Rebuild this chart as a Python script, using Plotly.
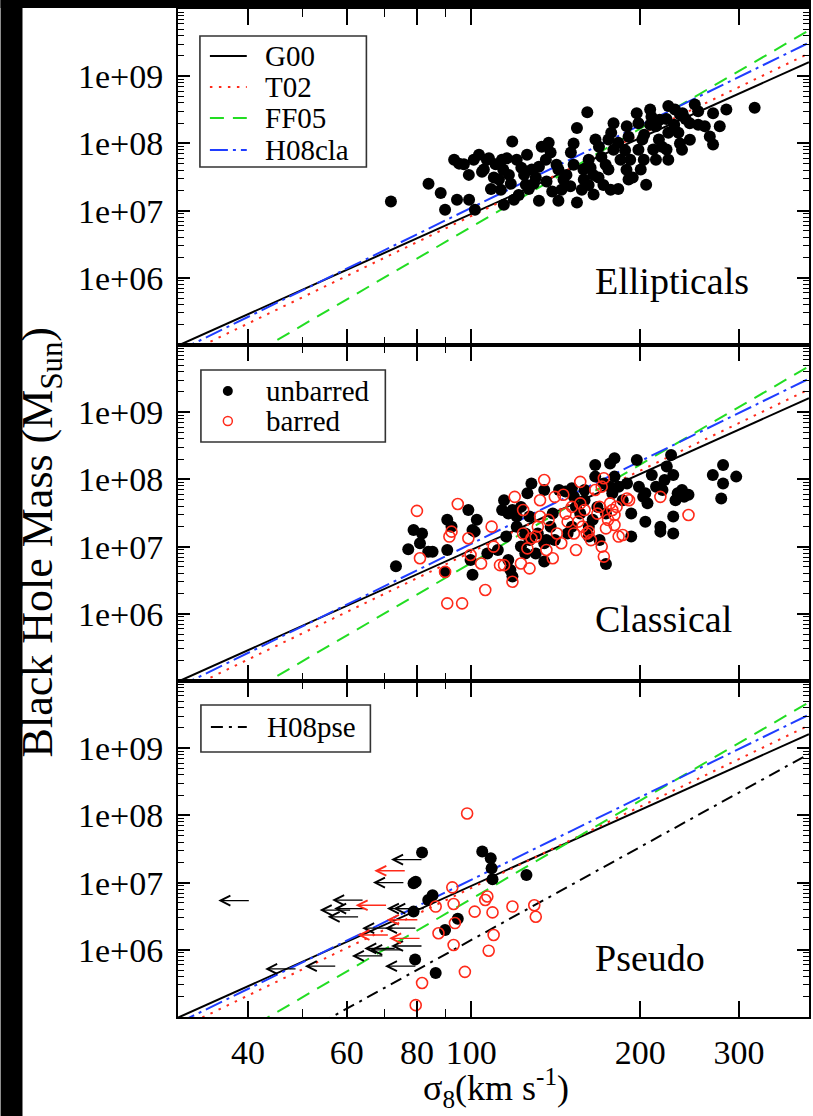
import math
import plotly.graph_objects as go
from plotly.subplots import make_subplots

# M-sigma relations: log10(M) = a + b * log10(sigma / 200 km/s)
rel_names = ["G00", "T02", "FF05", "H08cla"]
rel_a = [8.08, 8.13, 8.22, 8.27]
rel_b = [3.75, 4.02, 4.86, 4.08]
rel_colors = ["#000000", "#ff2a1a", "#22dd22", "#1f3dff"]
rel_dash = ["solid", "2.5px,6.5px", "14px,9px", "18px,5px,3px,5px"]
pse_name = "H08pse"
pse_a = 7.53
pse_b = 4.6
sigma_span = [30, 400]

# Ellipticals
ell_sigma = [71.9, 83.9, 88.2, 89.8, 161, 118.3, 113.4, 114, 125.7, 133.5, 137.4, 138.5,
             135.8, 132, 128.2, 139.4, 150.2, 157.4, 154.3, 154.3, 152.2, 150.5, 161.9,
             166.5, 170.6, 168.9, 175.6, 179.3, 175.6, 177.6, 182.8, 189.3, 190.7, 188,
             192, 190.7, 197.2, 198.6, 201.8, 200.5, 208.4, 209.5, 213.4, 216, 218.7,
             224.5, 222.8, 224.5, 222.9, 224.5, 230.7, 235.5, 234, 235.5, 238, 241,
             245.2, 250.3, 253.8, 260.8, 266.2, 269.8, 269.8, 277.3, 284.9, 320,
             172, 182.8, 165, 194, 203, 211,
             93.2, 95.1, 97, 99, 101, 103.2, 105.3, 107.5, 108.4, 110.5, 112, 115.7,
             117.6, 120.5, 121.5, 124.2, 126.6, 129.2, 132, 143, 146, 143, 158.5, 161.9,
             94.3,
             104.5, 106.6, 109.7, 112.9, 116.7, 119.1, 122.8, 125.1, 130.3, 136.2, 141.9,
             144.8, 147.8, 152.2, 158.7, 163.2, 168.6, 173.6, 179.3, 184.5, 189.1, 198.6,
             203.3, 208.4, 213.4, 216.7, 230, 237.5, 245.3, 253.8, 205, 177.2, 165.2,
             99.1, 101.5, 114.3]
ell_mbh = [1.37e7, 2.5e7, 1.83e7, 1.03e7, 2.9e8, 1.07e8, 5.7e7, 4.1e7, 6.8e7, 8.9e7, 1.02e8, 7.3e7,
           5.7e7, 4.5e7, 4.1e7, 1.93e7, 2.3e7, 2.05e7, 1.32e7, 1.7e8, 1.0e8, 7.3e7, 5.7e7,
           1.14e8, 6.3e7, 8.9e7, 4.1e7, 2.0e8, 1.14e8, 1.44e8, 1.02e8, 1.8e8, 1.26e8, 7.9e7,
           5.7e7, 2.9e7, 2.8e8, 2.0e8, 1.14e8, 4.1e7, 3.2e8, 2.5e8, 1.8e8, 1.14e8, 8.9e7,
           3.6e8, 2.3e8, 1.44e8, 8.1e7, 5.7e7, 3.2e8, 2.7e8, 1.44e8, 1.0e8, 2.8e8, 2.3e8,
           2.0e8, 3.8e8, 3.0e8, 1.8e8, 1.27e8, 9.6e7, 2.8e8, 1.8e8, 3.2e8, 3.4e8,
           2.4e7, 2.1e7, 3.4e7, 3.1e7, 5.7e7, 8.1e7,
           5.7e7, 5.0e7, 4.9e7, 3.4e7, 5.7e7, 6.8e7, 4.1e7, 6.0e7, 2.1e7, 4.9e7, 2.9e7, 6.0e7,
           2.5e7, 5.7e7, 1.7e7, 3.4e7, 2.1e7, 2.5e7, 1.4e7, 4.1e7, 2.9e7, 1.4e7, 4.1e7, 2.4e7,
           1.45e7,
           3.8e7, 5.7e7, 3.1e7, 2.05e7, 3.4e7, 1.45e7, 4.35e7, 2.43e7, 3.1e7, 2.7e7, 4.8e7,
           2.05e7, 3.4e7, 4.8e7, 2.9e7, 4.35e7, 3.1e7, 4.8e7, 8.05e7, 5.7e7, 4.06e7, 8.05e7,
           1.35e8, 1.9e8, 5.7e7, 2.25e8, 1.9e8, 8.05e7, 1.13e8, 1.9e8, 2.43e7, 2.05e7, 1.73e7,
           1.45e7, 1.03e7, 1.22e7]

# Classical bulges, unbarred hosts
cla_un_sigma = [73.4, 77.2, 78.9, 81.7, 81.0, 83.8, 85.3, 90.6, 92.2, 90.6, 89.8, 98.8,
                102.3, 100.5, 101.4, 100.5, 99.7, 106.8, 111.5, 114.4, 113.5, 116.4, 118.4,
                120.5, 122.6, 120.5, 115.4, 116.4, 117.4, 118.4, 122.6, 124.8, 127, 128,
                125.9, 134.9, 134.9, 136.1, 138.5, 139.7, 143.4, 147.2, 151.1, 152.4, 153.7,
                156.4, 159.2, 162, 162, 166.3, 166.3, 167.8, 172.3, 176.8, 180, 178.4, 173.8,
                180, 183.1, 186.2, 189.5, 192.8, 192.8, 197.3, 199, 202.5, 204.3, 206.1,
                204.3, 209.8, 213.5, 217.3, 217.3, 219.2, 221.1, 223.1, 227.1, 229.1, 229.1,
                231.2, 229.1, 233.3, 237.5, 239.6, 243.9, 269.5, 281.1, 281.1, 296.7, 279,
                127, 131.4, 140.9, 148.5, 151.1, 164.6, 169.3, 176.8, 173.8, 134.9, 130.3,
                124.8, 159.2]
cla_un_mbh = [5.1e6, 9.1e6, 1.77e7, 1.57e7, 1.12e7, 8.4e6, 8.4e6, 2.5e7, 1.98e7, 8.9e6, 4.2e6, 3.5e7,
              2.5e7, 1.77e7, 1.67e7, 3.8e6, 6.3e6, 7.9e6, 8.9e6, 4.9e7, 3.5e7, 3.1e7, 3.5e7,
              2.8e7, 3.9e7, 1.98e7, 1.41e7, 6.3e6, 4.5e6, 3.6e6, 1.0e7, 7.9e6, 1.25e7, 8.7e7,
              6.2e7, 6.95e7, 6.0e6, 1.25e7, 1.98e7, 3.1e7, 6.95e7, 6.6e7, 7.4e7, 5.5e7, 3.9e7,
              3.1e7, 4.9e7, 1.98e7, 1.41e7, 1.64e8, 1.1e8, 3.9e7, 8.7e7, 1.73e8, 2.06e8, 6.2e7, 5.5e6,
              1.1e8, 7.8e7, 4.9e7, 8.7e7, 1.41e7, 3.1e7, 1.95e8, 7.8e7, 5.5e7, 6.2e7, 4.4e7,
              2.35e7, 1.16e8, 7.8e7, 1.98e7, 1.67e7, 6.95e7, 9.8e7, 1.55e8, 2.3e8, 1.16e8, 2.8e7,
              4.9e7, 1.57e7, 6.2e7, 6.95e7, 5.5e7, 5.9e7, 1.16e8, 1.64e8, 8.7e7, 1.1e8, 5.2e7,
              2.8e7, 1.57e7, 1.25e7, 1.57e7, 1.98e7, 2.5e7, 1.25e7, 7.8e7, 3.1e7, 1.12e7, 7.9e6,
              1.57e7, 6.95e7]

# Classical bulges, barred hosts
cla_bar_sigma = [80.0, 81.0, 94.6, 92.2, 91.4, 89.8, 90.6, 96.3, 98.8, 99.7, 104.1, 105.9,
                 108.7, 109.6, 112.5, 114.4, 118.4, 119.5, 123.7, 123.7, 122.6, 125.9, 127,
                 128, 130.3, 131.4, 132.6, 134.9, 132.6, 136.1, 137.3, 139.7, 140.9, 142.1,
                 144.7, 145.9, 147.2, 148.5, 151.1, 152.4, 153.7, 155.1, 156.4, 156.4, 157.8,
                 159.2, 160.6, 162, 163.4, 166.3, 167.8, 169.3, 170.8, 170.8, 172.3, 172.3,
                 173.8, 175.3, 176.8, 178.4, 180, 180, 181.5, 183.1, 186.2, 189.5, 191.1,
                 217.3, 243.9]
cla_bar_mbh = [3.4e7, 6.7e6, 4.3e7, 1.67e7, 1.41e7, 4.2e6, 1.43e6, 1.43e6, 1.33e7, 7.5e6, 5.6e6, 2.26e6,
               1.98e7, 1.0e7, 5.3e6, 5.3e6, 3.0e6, 5.5e7, 3.5e7, 1.57e7, 5.6e6, 9.4e6, 4.75e6,
               1.33e7, 1.41e7, 1.98e7, 2.8e7, 9.8e7, 4.9e7, 8.9e6, 2.5e7, 6.7e6, 5.5e7, 1.57e7,
               1.12e7, 5.9e7, 3.1e7, 2.35e7, 3.9e7, 1.57e7, 8.9e6, 2.35e7, 9.2e7, 4.4e7, 1.98e7,
               3.5e7, 1.57e7, 1.67e7, 1.25e7, 6.95e7, 3.1e7, 3.9e7, 7.8e7, 1.0e7, 7.1e6, 1.04e8,
               1.87e7, 2.5e7, 4.4e7, 3.5e7, 2.95e7, 2.1e7, 3.9e7, 1.41e7, 1.49e7, 5.2e7, 4.9e7,
               5.5e7, 2.95e7]

# Pseudobulges, measured masses
pse_un_sigma = [81.7, 78.9, 79.6, 83.8, 85.3, 89.8, 94.6, 78.9, 79.4, 86.4, 104.6, 108.3,
                108.7, 109.1, 125.4]
pse_un_mbh = [2.8e7, 9.8e6, 1.03e7, 5.5e6, 6.5e6, 1.97e6, 2.9e6, 3.7e6, 7.2e5, 4.5e5, 2.9e7, 2.3e7,
              1.63e7, 1.12e7, 1.3e7]
pse_bar_sigma = [98.3, 92.5, 86.4, 93, 101.4, 105.9, 106.8, 109.1, 118.4, 129.5, 130.3, 87.4,
                 93, 93.5, 109.6, 107.4, 97.4, 81.7, 79.6]
pse_bar_mbh = [1.07e8, 8.5e6, 4.4e6, 4.8e6, 3.7e6, 5.5e6, 6.2e6, 3.6e6, 4.4e6, 4.6e6, 3.1e6, 1.76e6,
               1.18e6, 2.5e6, 1.66e6, 9.7e5, 4.7e5, 3.2e5, 1.5e5]

# Pseudobulges, upper limits in sigma
lim_un_sigma = [37.8, 76.8, 71.3, 60.3, 60.8, 59.2, 57.3, 75.5, 68.2, 74.9, 76.8, 68.8, 65.4,
                53.9, 45.8, 74.9, 77.5, 70.5]
lim_un_mbh = [5.4e6, 2.2e7, 1.0e7, 5.5e6, 4.1e6, 3.1e6, 3.9e6, 4.1e6, 2.1e6, 2.1e6, 1.14e6, 1.05e6,
              8.1e5, 5.7e5, 5.2e5, 5.7e5, 4.1e6, 1.0e6]
lim_bar_sigma = [71.7, 66.4, 75.5, 66.9, 76.2]
lim_bar_mbh = [1.5e7, 4.6e6, 2.8e6, 1.66e6, 1.48e6]

x_tickvals = [40, 60, 80, 100, 200, 300]
x_minor = [50, 70, 90]
y_tickvals = [1e6, 1e7, 1e8, 1e9]
y_ticktext = ["1e+06", "1e+07", "1e+08", "1e+09"]
y_minor = [k * 10 ** e for e in range(5, 10) for k in range(2, 10)]

panel_names = ["Ellipticals", "Classical", "Pseudo"]

SERIF = "Liberation Serif, Times New Roman, serif"
RED = "#ff2a1a"

W, H = 813, 1116
ML, MR, MT, MB = 178, 2, 9, 99
PW, PH = W - ML - MR, H - MT - MB


def fx(px):
    return (px - ML) / PW


def fy(py):
    return (MT + PH - py) / PH


def relation(a, b, s):
    return 10 ** (a + b * math.log10(s / 200.0))


fig = make_subplots(rows=3, cols=1, shared_xaxes=True, vertical_spacing=0)

for row in (1, 2, 3):
    for name, a, b, col, dash in zip(rel_names, rel_a, rel_b, rel_colors, rel_dash):
        fig.add_trace(go.Scatter(
            x=sigma_span, y=[relation(a, b, s) for s in sigma_span],
            mode="lines", name=name, showlegend=False,
            line=dict(color=col, width=2, dash=dash)), row=row, col=1)

fig.add_trace(go.Scatter(
    x=sigma_span, y=[relation(pse_a, pse_b, s) for s in sigma_span],
    mode="lines", name=pse_name, showlegend=False,
    line=dict(color="black", width=2, dash="12px,6px,3px,6px")), row=3, col=1)

filled = dict(symbol="circle", size=12, color="black", line=dict(width=0))
opened = dict(symbol="circle-open", size=11, color=RED, line=dict(width=1.6, color=RED))

fig.add_trace(go.Scatter(x=ell_sigma, y=ell_mbh, mode="markers", marker=filled,
                         showlegend=False), row=1, col=1)
fig.add_trace(go.Scatter(x=cla_un_sigma, y=cla_un_mbh, mode="markers", marker=filled,
                         showlegend=False), row=2, col=1)
fig.add_trace(go.Scatter(x=cla_bar_sigma, y=cla_bar_mbh, mode="markers", marker=opened,
                         showlegend=False), row=2, col=1)
fig.add_trace(go.Scatter(x=pse_un_sigma, y=pse_un_mbh, mode="markers", marker=filled,
                         showlegend=False), row=3, col=1)
fig.add_trace(go.Scatter(x=pse_bar_sigma, y=pse_bar_mbh, mode="markers", marker=opened,
                         showlegend=False), row=3, col=1)

# sigma upper limits: thin left-pointing arrows centred on each point
annotations = []
for sig_list, m_list, col in [(lim_un_sigma, lim_un_mbh, "black"),
                              (lim_bar_sigma, lim_bar_mbh, RED)]:
    for s, m in zip(sig_list, m_list):
        annotations.append(dict(x=math.log10(s), y=math.log10(m), xref="x3", yref="y3",
                                text="", showarrow=True, arrowhead=5, arrowsize=1.5,
                                arrowwidth=1.3, arrowcolor=col, ax=32, ay=0,
                                axref="pixel", ayref="pixel", xshift=-16,
                                standoff=0, startstandoff=0))

for row in (1, 2, 3):
    fig.update_xaxes(type="log", range=[math.log10(sigma_span[0]), math.log10(sigma_span[1])],
                     tickmode="array", tickvals=x_tickvals,
                     ticktext=[str(v) for v in x_tickvals],
                     ticks="inside", ticklen=16, tickwidth=1.6, tickcolor="black",
                     minor=dict(tickmode="array", tickvals=x_minor, ticks="inside",
                                ticklen=8, tickwidth=1.4, tickcolor="black"),
                     showline=True, linewidth=2, linecolor="black", mirror="allticks",
                     showgrid=False, zeroline=False,
                     tickfont=dict(family=SERIF, size=34, color="black"),
                     ticklabelstandoff=4, row=row, col=1)
    fig.update_yaxes(type="log", range=[5, 10],
                     tickmode="array", tickvals=y_tickvals, ticktext=y_ticktext,
                     ticks="inside", ticklen=12, tickwidth=1.6, tickcolor="black",
                     minor=dict(tickmode="array", tickvals=y_minor, ticks="inside",
                                ticklen=6, tickwidth=1.2, tickcolor="black"),
                     showline=True, linewidth=2, linecolor="black", mirror="allticks",
                     showgrid=False, zeroline=False,
                     tickfont=dict(family=SERIF, size=34, color="black"),
                     ticklabelstandoff=6, row=row, col=1)

shapes = []

# dark frame strips around the page
shapes.append(dict(type="rect", xref="paper", yref="paper", x0=fx(0), x1=fx(22),
                   y0=fy(H), y1=fy(0), fillcolor="black", line=dict(width=0), layer="above"))
shapes.append(dict(type="rect", xref="paper", yref="paper", x0=fx(0), x1=fx(W),
                   y0=fy(8), y1=fy(0), fillcolor="black", line=dict(width=0), layer="above"))

# legend boxes
box_line = dict(color="#333333", width=1.6)
for (x0, y0, x1, y1) in [(200, 36, 367, 167), (201, 370, 386, 442), (201, 705, 371, 752)]:
    shapes.append(dict(type="rect", xref="paper", yref="paper", x0=fx(x0), x1=fx(x1),
                       y0=fy(y1), y1=fy(y0), fillcolor="white", line=box_line, layer="above"))

leg_rows = [56, 87, 118, 150]
for name, col, dash, yy in zip(rel_names, rel_colors, rel_dash, leg_rows):
    shapes.append(dict(type="line", xref="paper", yref="paper", x0=fx(210), x1=fx(247),
                       y0=fy(yy), y1=fy(yy), line=dict(color=col, width=2, dash=dash),
                       layer="above"))
    annotations.append(dict(text=name, xref="paper", yref="paper", x=fx(263), y=fy(yy),
                            xanchor="left", yanchor="middle", showarrow=False,
                            font=dict(family=SERIF, size=29, color="black")))

shapes.append(dict(type="circle", xref="paper", yref="paper", xsizemode="pixel",
                   ysizemode="pixel", xanchor=fx(228), yanchor=fy(391), x0=-5, x1=5,
                   y0=-5, y1=5, fillcolor="black", line=dict(width=0), layer="above"))
shapes.append(dict(type="circle", xref="paper", yref="paper", xsizemode="pixel",
                   ysizemode="pixel", xanchor=fx(228), yanchor=fy(421), x0=-4.5, x1=4.5,
                   y0=-4.5, y1=4.5, line=dict(color=RED, width=1.5), layer="above"))
for txt, yy in [("unbarred", 391), ("barred", 421)]:
    annotations.append(dict(text=txt, xref="paper", yref="paper", x=fx(264), y=fy(yy),
                            xanchor="left", yanchor="middle", showarrow=False,
                            font=dict(family=SERIF, size=29, color="black")))

shapes.append(dict(type="line", xref="paper", yref="paper", x0=fx(211), x1=fx(247),
                   y0=fy(727), y1=fy(727),
                   line=dict(color="black", width=2, dash="12px,6px,3px,6px"), layer="above"))
annotations.append(dict(text=pse_name, xref="paper", yref="paper", x=fx(265), y=fy(727),
                        xanchor="left", yanchor="middle", showarrow=False,
                        font=dict(family=SERIF, size=29, color="black")))

# panel names
for name, yy in zip(panel_names, [281, 619, 958]):
    annotations.append(dict(text=name, xref="paper", yref="paper", x=fx(594), y=fy(yy),
                            xanchor="left", yanchor="middle", showarrow=False,
                            font=dict(family=SERIF, size=38, color="black")))

# axis titles
annotations.append(dict(text="Black Hole Mass (M<sub>Sun</sub>)", xref="paper", yref="paper",
                        x=fx(40), y=fy(542), textangle=-90, xanchor="center",
                        yanchor="middle", showarrow=False,
                        font=dict(family=SERIF, size=44, color="black")))
annotations.append(dict(text="\u03c3<sub>8</sub>(km s<sup>-1</sup>)", xref="paper",
                        yref="paper", x=fx(497), y=fy(1088), xanchor="center",
                        yanchor="middle", showarrow=False,
                        font=dict(family=SERIF, size=36, color="black")))

fig.update_layout(width=W, height=H, margin=dict(l=ML, r=MR, t=MT, b=MB),
                  paper_bgcolor="white", plot_bgcolor="white",
                  showlegend=False, shapes=shapes, annotations=annotations)

fig.write_html("out.html")
